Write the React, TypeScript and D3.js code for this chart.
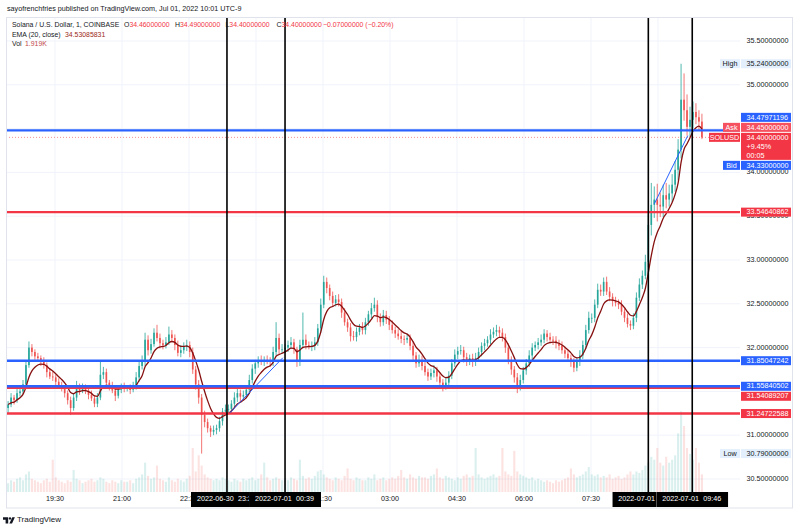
import React from 'react';
import * as d3 from 'd3';

// ---- data (4-minute candles) ----
const startTime = '2022-06-30T18:27';
const candleMinutes = 4;
const firstOpen = 31.31;
const closes = [
  31.35, 31.43, 31.40, 31.48, 31.50, 31.58, 31.80, 32.00, 31.95, 31.90,
  31.88, 31.84, 31.80, 31.72, 31.67, 31.66, 31.61, 31.56, 31.54, 31.48,
  31.40, 31.31, 31.43, 31.56, 31.51, 31.54, 31.51, 31.46, 31.42, 31.36,
  31.43, 31.69, 31.72, 31.60, 31.56, 31.51, 31.45, 31.52, 31.56, 31.54,
  31.54, 31.52, 31.56, 31.66, 31.79, 31.84, 32.09, 31.97, 32.04, 32.17,
  32.11, 32.05, 32.03, 32.06, 32.15, 32.11, 32.03, 31.94, 31.97, 32.01,
  32.03, 31.95, 31.75, 31.58, 31.43, 31.23, 31.15, 31.08, 31.04, 31.06,
  31.08, 31.16, 31.27, 31.29, 31.30, 31.36, 31.43, 31.48, 31.44, 31.46,
  31.52, 31.63, 31.76, 31.82, 31.85, 31.84, 31.86, 31.85, 31.84, 31.95,
  32.11, 31.98, 31.98, 32.00, 32.03, 32.06, 31.98, 31.84, 32.03, 32.09,
  32.03, 32.02, 32.02, 32.06, 32.22, 32.49, 32.75, 32.68, 32.59, 32.51,
  32.55, 32.52, 32.40, 32.29, 32.23, 32.13, 32.12, 32.18, 32.23, 32.20,
  32.29, 32.38, 32.45, 32.49, 32.35, 32.29, 32.37, 32.32, 32.26, 32.20,
  32.16, 32.13, 32.10, 32.09, 32.11, 32.02, 31.91, 31.82, 31.86, 31.79,
  31.72, 31.67, 31.71, 31.74, 31.67, 31.60, 31.56, 31.60, 31.68, 31.82,
  31.92, 31.96, 31.97, 31.89, 31.84, 31.88, 31.84, 31.88, 31.95, 32.02,
  32.05, 32.09, 32.15, 32.18, 32.20, 32.17, 32.12, 32.00, 31.86, 31.75,
  31.66, 31.56, 31.63, 31.74, 31.82, 31.91, 32.00, 32.03, 32.06, 32.09,
  32.16, 32.12, 32.09, 32.08, 32.05, 32.02, 31.97, 31.93, 31.88, 31.84,
  31.77, 31.84, 31.91, 32.03, 32.20, 32.34, 32.34, 32.49, 32.66, 32.64,
  32.75, 32.64, 32.58, 32.53, 32.51, 32.49, 32.41, 32.34, 32.27, 32.25,
  32.34, 32.57, 32.72, 32.82, 32.98, 33.40, 33.63, 33.69, 33.63, 33.61,
  33.74, 33.69, 33.76, 33.86, 34.03, 34.26, 34.83, 34.71, 34.52, 34.60,
  34.69, 34.63, 34.58, 34.40,
];
const wickUp = [
  0.04, 0.05, 0.03, 0.06, 0.04, 0.05, 0.05, 0.07, 0.04, 0.03,
  0.04, 0.03, 0.05, 0.03, 0.04, 0.06, 0.03, 0.04, 0.05, 0.03,
  0.03, 0.04, 0.05, 0.06, 0.03, 0.05, 0.04, 0.03, 0.05, 0.04,
  0.05, 0.15, 0.06, 0.04, 0.03, 0.05, 0.04, 0.05, 0.03, 0.04,
  0.03, 0.04, 0.05, 0.06, 0.05, 0.07, 0.08, 0.05, 0.06, 0.05,
  0.09, 0.05, 0.04, 0.06, 0.09, 0.05, 0.04, 0.05, 0.06, 0.05,
  0.06, 0.04, 0.05, 0.04, 0.05, 0.04, 0.05, 0.04, 0.03, 0.05,
  0.04, 0.05, 0.04, 0.06, 0.05, 0.04, 0.06, 0.05, 0.04, 0.05,
  0.05, 0.06, 0.05, 0.04, 0.05, 0.06, 0.04, 0.05, 0.04, 0.06,
  0.18, 0.05, 0.06, 0.04, 0.05, 0.06, 0.04, 0.03, 0.06, 0.31,
  0.06, 0.04, 0.05, 0.06, 0.05, 0.07, 0.07, 0.05, 0.04, 0.05,
  0.05, 0.06, 0.04, 0.05, 0.04, 0.05, 0.06, 0.05, 0.04, 0.06,
  0.05, 0.04, 0.06, 0.08, 0.05, 0.04, 0.06, 0.05, 0.04, 0.05,
  0.04, 0.05, 0.06, 0.04, 0.05, 0.04, 0.05, 0.04, 0.06, 0.05,
  0.05, 0.04, 0.05, 0.06, 0.04, 0.05, 0.04, 0.06, 0.05, 0.05,
  0.06, 0.05, 0.06, 0.04, 0.05, 0.04, 0.05, 0.06, 0.05, 0.04,
  0.05, 0.04, 0.06, 0.05, 0.06, 0.04, 0.05, 0.04, 0.05, 0.04,
  0.04, 0.05, 0.06, 0.04, 0.05, 0.06, 0.05, 0.04, 0.05, 0.06,
  0.05, 0.04, 0.05, 0.04, 0.05, 0.04, 0.05, 0.04, 0.05, 0.04,
  0.04, 0.05, 0.06, 0.05, 0.06, 0.07, 0.05, 0.06, 0.07, 0.06,
  0.05, 0.06, 0.05, 0.04, 0.05, 0.04, 0.05, 0.04, 0.05, 0.04,
  0.05, 0.06, 0.07, 0.06, 0.08, 0.12, 0.25, 0.15, 0.18, 0.14,
  0.12, 0.14, 0.10, 0.12, 0.10, 0.12, 0.41, 0.30, 0.18, 0.15,
  0.12, 0.10, 0.08, 0.09,
];
const wickDown = [
  0.06, 0.03, 0.05, 0.03, 0.04, 0.03, 0.04, 0.03, 0.05, 0.04,
  0.03, 0.05, 0.04, 0.06, 0.03, 0.04, 0.05, 0.03, 0.04, 0.05,
  0.05, 0.08, 0.03, 0.04, 0.05, 0.03, 0.04, 0.05, 0.03, 0.04,
  0.04, 0.03, 0.05, 0.04, 0.05, 0.03, 0.06, 0.03, 0.04, 0.05,
  0.04, 0.05, 0.03, 0.04, 0.05, 0.04, 0.05, 0.06, 0.04, 0.03,
  0.04, 0.06, 0.05, 0.04, 0.03, 0.05, 0.06, 0.04, 0.05, 0.04,
  0.05, 0.06, 0.05, 0.06, 0.07, 0.44, 0.06, 0.05, 0.06, 0.04,
  0.05, 0.04, 0.05, 0.04, 0.03, 0.05, 0.04, 0.05, 0.06, 0.04,
  0.04, 0.05, 0.04, 0.06, 0.05, 0.04, 0.05, 0.04, 0.06, 0.05,
  0.04, 0.06, 0.05, 0.04, 0.05, 0.04, 0.05, 0.06, 0.05, 0.04,
  0.05, 0.04, 0.06, 0.05, 0.04, 0.05, 0.04, 0.06, 0.05, 0.04,
  0.04, 0.05, 0.06, 0.04, 0.05, 0.06, 0.04, 0.05, 0.04, 0.05,
  0.05, 0.04, 0.05, 0.04, 0.06, 0.05, 0.04, 0.05, 0.06, 0.04,
  0.05, 0.04, 0.05, 0.06, 0.04, 0.05, 0.06, 0.05, 0.04, 0.05,
  0.04, 0.05, 0.04, 0.05, 0.06, 0.05, 0.06, 0.04, 0.05, 0.04,
  0.04, 0.05, 0.04, 0.06, 0.05, 0.04, 0.06, 0.05, 0.04, 0.05,
  0.05, 0.04, 0.05, 0.04, 0.05, 0.06, 0.05, 0.06, 0.05, 0.06,
  0.06, 0.08, 0.05, 0.04, 0.05, 0.04, 0.05, 0.04, 0.05, 0.04,
  0.04, 0.05, 0.04, 0.05, 0.06, 0.05, 0.04, 0.05, 0.04, 0.06,
  0.05, 0.04, 0.05, 0.04, 0.05, 0.04, 0.06, 0.05, 0.04, 0.05,
  0.05, 0.04, 0.05, 0.06, 0.04, 0.05, 0.04, 0.05, 0.04, 0.05,
  0.04, 0.05, 0.04, 0.05, 0.04, 0.06, 0.12, 0.15, 0.19, 0.12,
  0.12, 0.10, 0.08, 0.10, 0.08, 0.12, 0.10, 0.12, 0.10, 0.12,
  0.10, 0.08, 0.10, 0.02,
];
const volumes = [
  6, 8, 7, 9, 10, 8, 12, 14, 9, 8,
  7, 6, 8, 9, 7, 22, 10, 8, 7, 6,
  8, 7, 15, 9, 8, 6, 7, 8, 9, 7,
  8, 10, 9, 7, 6, 8, 7, 6, 8, 7,
  7, 8, 6, 9, 10, 12, 20, 11, 9, 10,
  18, 9, 8, 7, 10, 8, 7, 9, 8, 7,
  9, 11, 30, 14, 25, 18, 12, 10, 9, 8,
  9, 8, 10, 9, 8, 7, 9, 8, 7, 9,
  8, 9, 10, 8, 9, 12, 20, 10, 8, 9,
  10, 9, 8, 9, 8, 10, 9, 8, 22, 11,
  9, 10, 9, 11, 14, 15, 12, 10, 9, 8,
  10, 9, 8, 11, 16, 9, 8, 10, 9, 8,
  8, 10, 9, 12, 8, 9, 10, 8, 9, 10,
  9, 11, 15, 10, 9, 12, 10, 9, 11, 10,
  10, 9, 11, 12, 16, 10, 9, 11, 10, 9,
  8, 10, 9, 11, 12, 10, 11, 30, 12, 10,
  9, 10, 11, 12, 10, 11, 30, 14, 12, 11,
  28, 14, 12, 11, 10, 9, 10, 8, 9, 8,
  7, 8, 7, 6, 8, 7, 8, 9, 10, 16,
  12, 10, 11, 12, 14, 17, 12, 11, 12, 10,
  11, 10, 12, 9, 10, 11, 9, 10, 12, 14,
  12, 14, 13, 15, 18, 20, 24, 22, 30, 20,
  18, 24, 20, 22, 25, 40, 55, 45, 30, 26,
  22, 30, 20, 12,
];
const emaPeriod = 7; // smoothing of the EMA(20, close) drawn over the 4-minute closes

const priceTicks = [30.5, 31, 31.5, 32, 32.5, 33, 33.5, 34, 34.5, 35, 35.5];
const priceTickLabelsShown = [30.5, 31, 32, 32.5, 33, 33.5, 34, 35, 35.5];
const timeTicks = ['2022-06-30T19:30', '2022-06-30T21:00', '2022-06-30T22:30', '2022-07-01T00:00', '2022-07-01T01:30', '2022-07-01T03:00', '2022-07-01T04:30', '2022-07-01T06:00', '2022-07-01T07:30', '2022-07-01T09:00'];
const timeTickLabels = ['19:30', '21:00', '22:30', '', '01:30', '03:00', '04:30', '06:00', '07:30', ''];

const blueLevels = [34.47971196, 31.85047242, 31.55840502];
const redLevels = [33.54640862, 31.54089207, 31.24722588];
const markerTimes = ['2022-06-30T23:21', '2022-07-01T00:39', '2022-07-01T08:47', '2022-07-01T09:46'];
const markerDates = ['2022-06-30', '2022-07-01', '2022-07-01', '2022-07-01'];
const markerClock = ['23:21', '00:39', '08:47', '09:46'];
const trendStarts = [['2022-06-30T23:25', 31.256], ['2022-07-01T08:55', 33.64]];
const trendEnds = [['2022-07-01T00:36', 31.884], ['2022-07-01T09:40', 34.42]];

const highPrice = 35.24;
const lowPrice = 30.79;
const lastPrice = 34.4;
const askPrice = 34.45;
const bidPrice = 34.33;
const changePct = '+9.45%';
const countdown = '00:05';
const emaLast = '34.53085831';

const FONT = "'Liberation Sans', Arial, sans-serif";
const BLUE = '#2962ff';
const RED = '#f23645';
const UP = '#26a69a';
const DOWN = '#ef5350';
const TXT = '#131722';

export default function App() {
  const pane = { left: 6, right: 740, top: 17, bottom: 492 };
  const x = d3.scaleTime()
    .domain([new Date('2022-06-30T19:30'), new Date('2022-07-01T09:00')])
    .range([55, 658]);
  const y = d3.scaleLinear().domain([30.5, 35.5]).range([479, 41]);
  const vy = d3.scaleLinear().domain([0, 60]).range([0, 88]);
  const t0 = new Date(startTime).getTime();

  const alpha = 2 / (emaPeriod + 1);
  let ema = closes[0];
  const candles = closes.map((c, i) => {
    const o = i === 0 ? firstOpen : closes[i - 1];
    const h = Math.max(o, c) + wickUp[i];
    const l = Math.min(o, c) - wickDown[i];
    ema = i === 0 ? c : alpha * c + (1 - alpha) * ema;
    return { t: new Date(t0 + i * candleMinutes * 60000), o, h, l, c, v: volumes[i], ema };
  });
  const step = x(new Date(t0 + candleMinutes * 60000)) - x(new Date(t0));
  const bodyW = step * 0.55;
  const emaPath = d3.line<any>().x(d => x(d.t)).y(d => y(d.ema)).curve(d3.curveMonotoneX)(candles) || '';
  const fmt = d3.format('.8f');

  // right-axis tags
  const rowH = 9, gap = 1;
  const tags: any[] = [];
  const yLast = y(lastPrice);
  const solTop = yLast - rowH / 2;
  const askCy = solTop - gap - rowH / 2;
  const blueTopCy = askCy - rowH - gap;
  const bidCy = solTop + rowH * 3 + gap + rowH / 2;
  tags.push({ cy: blueTopCy, text: fmt(blueLevels[0]), fill: BLUE, color: '#fff' });
  tags.push({ cy: askCy, text: fmt(askPrice), fill: '#f5515f', color: '#fff', side: 'Ask', sideW: 17 });
  tags.push({ cy: bidCy, text: fmt(bidPrice), fill: BLUE, color: '#fff', side: 'Bid', sideW: 17 });
  tags.push({ cy: y(redLevels[0]), text: fmt(redLevels[0]), fill: RED, color: '#fff' });
  tags.push({ cy: y(blueLevels[1]), text: fmt(blueLevels[1]), fill: BLUE, color: '#fff' });
  const pairCy = y(blueLevels[2]);
  tags.push({ cy: pairCy, text: fmt(blueLevels[2]), fill: BLUE, color: '#fff' });
  tags.push({ cy: Math.max(y(redLevels[1]), pairCy + rowH + gap), text: fmt(redLevels[1]), fill: RED, color: '#fff' });
  tags.push({ cy: y(redLevels[2]), text: fmt(redLevels[2]), fill: RED, color: '#fff' });
  tags.push({ cy: y(highPrice), text: fmt(highPrice), fill: '#e3effd', color: TXT, side: 'High', sideW: 20, sideFill: '#e3effd' });
  tags.push({ cy: y(lowPrice), text: fmt(lowPrice), fill: '#e3effd', color: TXT, side: 'Low', sideW: 20, sideFill: '#e3effd' });

  const axisX = 741, axisW = 50, textX = 746.5;
  const fs = 7.2;
  const lfs = 6.9;

  // marker label boxes (later ones drawn over earlier ones, as in the original)
  const boxW = 72;
  const markerBoxes = markerTimes.map((t, i) => {
    const mx = x(new Date(t));
    return { mx, left: mx - boxW / 2, right: mx + boxW / 2 };
  });
  const visibleRight = markerBoxes.map((b, i) => {
    const next = markerBoxes[i + 1];
    return next && next.left < b.right ? next.left : b.right;
  });

  return (
    <svg width={800} height={530} style={{ position: 'absolute', left: 0, top: 0, fontFamily: FONT }}>
      <defs>
        <clipPath id="pane"><rect x={pane.left} y={pane.top} width={pane.right - pane.left} height={pane.bottom - pane.top} /></clipPath>
        {markerBoxes.map((b, i) => (
          <clipPath key={'mc' + i} id={'mclip' + i}><rect x={b.left} y={490} width={visibleRight[i] - b.left} height={20} /></clipPath>
        ))}
      </defs>
      <rect width={800} height={530} fill="#fff" />
      <text x={7} y={9} dominantBaseline="middle" fontSize={7.2} fill={TXT}>sayofrenchfries published on TradingView.com, Jul 01, 2022 10:01 UTC-9</text>

      <g clipPath="url(#pane)">
        {priceTicks.map(p => (
          <line key={'hg' + p} x1={pane.left} x2={pane.right} y1={y(p)} y2={y(p)} stroke="#f0f3fa" strokeWidth={1} />
        ))}
        {timeTicks.map(t => (
          <line key={'vg' + t} x1={x(new Date(t))} x2={x(new Date(t))} y1={pane.top} y2={pane.bottom} stroke="#f0f3fa" strokeWidth={1} />
        ))}
        {candles.map((d, i) => (
          <rect key={'v' + i} x={x(d.t) - step * 0.35} width={step * 0.7} y={pane.bottom - vy(d.v)} height={vy(d.v)}
            fill={d.c >= d.o ? UP : DOWN} opacity={0.17} />
        ))}
        {candles.map((d, i) => {
          const col = d.c >= d.o ? UP : DOWN;
          const cx = x(d.t);
          const top = y(Math.max(d.o, d.c));
          const bh = Math.max(0.8, Math.abs(y(d.o) - y(d.c)));
          return (
            <g key={'c' + i}>
              <line x1={cx} x2={cx} y1={y(d.h)} y2={y(d.l)} stroke={col} strokeWidth={0.8} />
              <rect x={cx - bodyW / 2} width={bodyW} y={top} height={bh} fill={col} />
            </g>
          );
        })}
        <path d={emaPath} fill="none" stroke="#861010" strokeWidth={1.3} />
        <line x1={pane.left} x2={pane.right} y1={y(lastPrice)} y2={y(lastPrice)} stroke={RED} strokeWidth={1} strokeDasharray="1 2" opacity={0.55} />
        {redLevels.map(p => (
          <line key={'r' + p} x1={pane.left} x2={pane.right} y1={y(p)} y2={y(p)} stroke={RED} strokeWidth={2.4} />
        ))}
        {blueLevels.map(p => (
          <line key={'b' + p} x1={pane.left} x2={pane.right} y1={y(p)} y2={y(p)} stroke={BLUE} strokeWidth={2.4} />
        ))}
        {trendStarts.map((s, i) => (
          <line key={'tl' + i} x1={x(new Date(s[0] as string))} y1={y(s[1] as number)}
            x2={x(new Date(trendEnds[i][0] as string))} y2={y(trendEnds[i][1] as number)} stroke={BLUE} strokeWidth={1} />
        ))}
        {markerTimes.map(t => (
          <line key={'m' + t} x1={x(new Date(t))} x2={x(new Date(t))} y1={pane.top} y2={pane.bottom} stroke="#000" strokeWidth={1.6} />
        ))}
      </g>

      {/* legend */}
      <text y={25} dominantBaseline="middle" fontSize={lfs} fill={TXT}>
        <tspan x={12}>Solana / U.S. Dollar, 1, COINBASE</tspan>
        <tspan x={124}>O</tspan><tspan fill={RED}>34.46000000</tspan>
        <tspan x={175}>H</tspan><tspan fill={RED}>34.49000000</tspan>
        <tspan x={225.5}>L</tspan><tspan fill={RED}>34.40000000</tspan>
        <tspan x={276.5}>C</tspan><tspan fill={RED}>34.40000000</tspan>
        <tspan x={323} fill={RED}>−0.07000000 (−0.20%)</tspan>
      </text>
      <text y={34.5} dominantBaseline="middle" fontSize={lfs} fill={TXT}>
        <tspan x={12}>EMA (20, close)</tspan><tspan x={65} fill="#9b2a17">{emaLast}</tspan>
      </text>
      <text y={44} dominantBaseline="middle" fontSize={lfs} fill={TXT}>
        <tspan x={12}>Vol</tspan><tspan x={25} fill="#c2474b">1.919K</tspan>
      </text>

      {/* right price axis */}
      {priceTickLabelsShown.map(p => (
        <text key={'pt' + p} x={textX} y={y(p)} dominantBaseline="middle" fontSize={fs} fill={TXT}>{fmt(p)}</text>
      ))}
      {tags.map((tg, i) => (
        <g key={'tag' + i}>
          <rect x={axisX} y={tg.cy - rowH / 2} width={axisW} height={rowH} fill={tg.fill} />
          <text x={textX} y={tg.cy + 0.3} dominantBaseline="middle" fontSize={fs} fill={tg.color}>{tg.text}</text>
          {tg.side && (
            <g>
              <rect x={axisX - 1 - tg.sideW} y={tg.cy - rowH / 2} width={tg.sideW} height={rowH} fill={tg.sideFill || tg.fill} />
              <text x={axisX - 1 - tg.sideW / 2} y={tg.cy + 0.3} textAnchor="middle" dominantBaseline="middle" fontSize={fs} fill={tg.color}>{tg.side}</text>
            </g>
          )}
        </g>
      ))}
      {/* last price block */}
      <rect x={axisX} y={solTop} width={axisW} height={rowH * 3} fill={RED} />
      <rect x={709} y={solTop} width={31} height={rowH} fill={RED} />
      <text x={724.5} y={yLast + 0.3} textAnchor="middle" dominantBaseline="middle" fontSize={fs} fill="#fff">SOLUSD</text>
      <text x={textX} y={yLast + 0.3} dominantBaseline="middle" fontSize={fs} fill="#fff">{fmt(lastPrice)}</text>
      <text x={textX} y={yLast + rowH + 0.3} dominantBaseline="middle" fontSize={fs} fill="#fff">{changePct}</text>
      <text x={textX} y={yLast + rowH * 2 + 0.3} dominantBaseline="middle" fontSize={fs} fill="#fff">{countdown}</text>

      {/* time axis */}
      {timeTicks.map((t, i) => timeTickLabels[i] ? (
        <text key={'tt' + t} x={x(new Date(t))} y={499.5} textAnchor="middle" dominantBaseline="middle" fontSize={fs} fill={TXT}>{timeTickLabels[i]}</text>
      ) : null)}
      {markerBoxes.map((b, i) => {
        const clockStart = b.mx + 29 - 18;
        return (
          <g key={'mb' + i} clipPath={`url(#mclip${i})`}>
            <rect x={b.left} y={492} width={boxW} height={15} fill="#000" />
            <text x={b.mx - 30} y={499.5} dominantBaseline="middle" fontSize={fs} fill="#fff">{markerDates[i]}</text>
            {clockStart < visibleRight[i] - 2 && (
              <text x={b.mx + 29} y={499.5} textAnchor="end" dominantBaseline="middle" fontSize={fs} fill="#fff">{markerClock[i]}</text>
            )}
          </g>
        );
      })}

      <rect x={6.5} y={17.5} width={786} height={490.5} fill="none" stroke="#e0e3eb" strokeWidth={1} />

      {/* footer */}
      <path d="M3 517.2h5.2v6.3h-2.6v-3.7H3z" fill={TXT} />
      <circle cx={10} cy={518.4} r={1.2} fill={TXT} />
      <path d="M9.4 523.5l2.9-6.3h2.6l-2.9 6.3z" fill={TXT} />
      <text x={17} y={520.3} dominantBaseline="middle" fontSize={8} fill={TXT}>TradingView</text>
    </svg>
  );
}
